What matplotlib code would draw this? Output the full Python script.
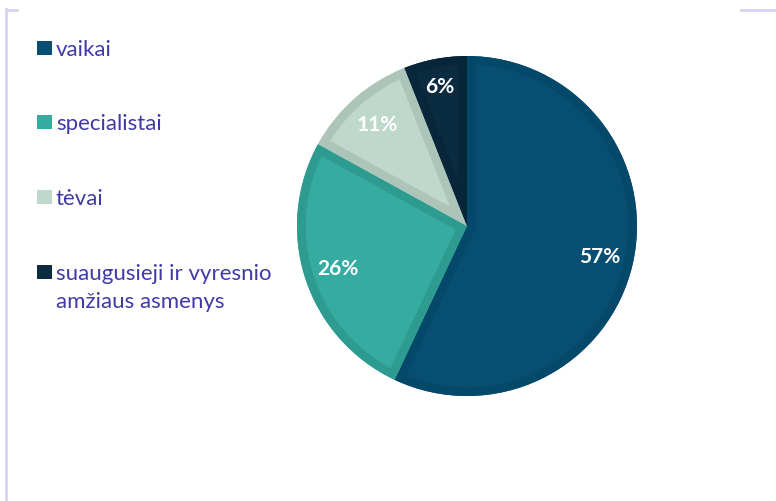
import matplotlib
matplotlib.use("Agg")
import matplotlib.pyplot as plt
import numpy as np
from matplotlib.lines import Line2D
from matplotlib.patches import Rectangle, Wedge

categories = ["vaikai", "specialistai", "tėvai", "suaugusieji ir vyresnio\namžiaus asmenys"]
shares = [57, 26, 11, 6]
fill_colors = ["#064F73", "#35ABA1", "#BFD8CC", "#0B2B40"]
edge_colors = ["#04486A", "#2E9B90", "#ADC4B9", "#08263A"]
legend_color = "#3F3AA6"
frame_color = "#D6D2F2"

W, H = 776, 502
fig = plt.figure(figsize=(W / 100, H / 100), dpi=100)

# pie centred at (467, 227) px, radius 170 px
cx, cy, r = 467, 227, 170
ax = fig.add_axes([(cx - r) / W, (H - cy - r) / H, 2 * r / W, 2 * r / H])
wedges, _, autotexts = ax.pie(
    shares, colors=fill_colors, startangle=90, counterclock=False,
    autopct=lambda p: f"{p:.0f}%", pctdistance=0.8, radius=1,
    wedgeprops=dict(linewidth=0),
    textprops=dict(color="white", fontsize=15, fontweight="bold", family="Lato"),
)
# darker inner border: a stroke twice as wide, clipped to a copy of the wedge
for w, ec in zip(wedges, edge_colors):
    clip = Wedge(w.center, w.r, w.theta1, w.theta2, transform=ax.transData)
    border = Wedge(w.center, w.r, w.theta1, w.theta2, facecolor="none",
                   edgecolor=ec, linewidth=12.5, joinstyle="miter", zorder=w.get_zorder())
    ax.add_patch(border)
    border.set_clip_path(clip)

# the small slice's label sits a bit further out
label_dist = [0.8, 0.8, 0.8, 0.84]
for w, t, d in zip(wedges, autotexts, label_dist):
    mid = np.deg2rad((w.theta1 + w.theta2) / 2)
    t.set_position((d * np.cos(mid), d * np.sin(mid)))
    t.set_zorder(5)
ax.set_xlim(-1, 1)
ax.set_ylim(-1, 1)
ax.set_aspect("equal")
ax.axis("off")

# legend on the left (baseline y in px for each row)
rows_y = [56, 130, 205, 280]
for y, lab, col in zip(rows_y, categories, fill_colors):
    fig.patches.append(Rectangle((37 / W, 1 - y / H), 15 / W, 14 / H,
                                 transform=fig.transFigure, facecolor=col,
                                 edgecolor="none"))
    for i, line in enumerate(lab.split("\n")):
        fig.text(56 / W, 1 - (y + 28 * i) / H, line, color=legend_color,
                 fontsize=16, family="Lato", va="baseline", ha="left")

# thin frame pieces
fig.lines.append(Line2D([6 / W, 6 / W], [1 - 10 / H, 0], transform=fig.transFigure,
                        color=frame_color, linewidth=2))
fig.lines.append(Line2D([6 / W, 17 / W], [1 - 10.5 / H, 1 - 10.5 / H],
                        transform=fig.transFigure, color=frame_color, linewidth=2))
fig.lines.append(Line2D([741 / W, 1], [1 - 10.5 / H, 1 - 10.5 / H],
                        transform=fig.transFigure, color=frame_color, linewidth=2))

fig.savefig("out.png", dpi=100, facecolor="white")
